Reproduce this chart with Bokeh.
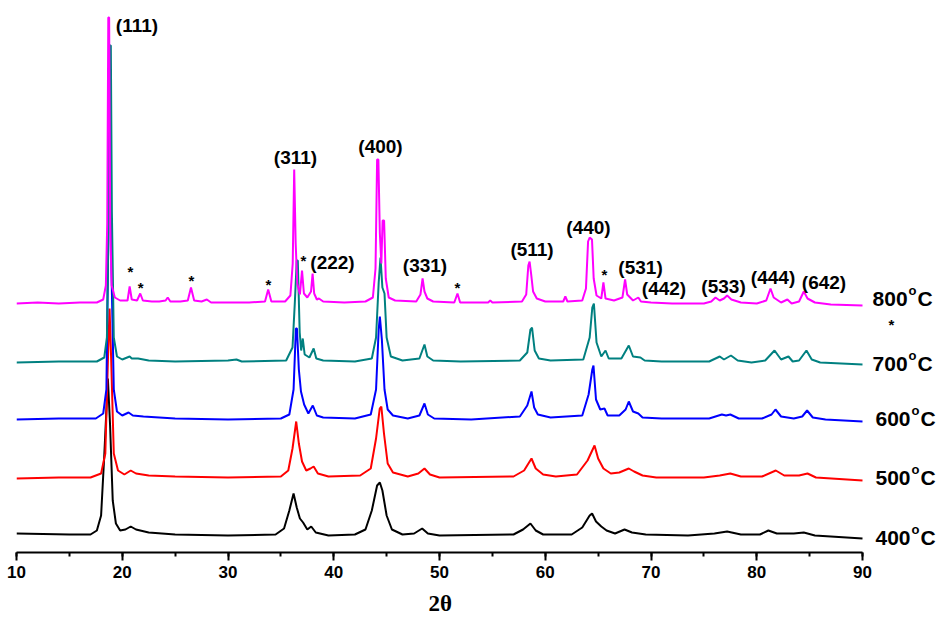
from bokeh.plotting import figure
from bokeh.models import Range1d, SingleIntervalTicker, ColumnDataSource, Title
from bokeh.embed import file_html
from bokeh.resources import INLINE
from bokeh.core.properties import value

# ---------------- data ----------------
temps = ["800", "700", "600", "500", "400"]
colors = ["#FF00FF", "#008080", "#0000FF", "#FF0000", "#000000"]
offsets = [249, 190, 133, 74, 17]   # vertical stacking offset of each pattern (a.u.)

# digitised patterns: (2theta, intensity above own baseline)
pattern_800 = [(10.0,0),(12.0,1),(14.0,0),(16.0,1),(17.6,1),(18.2,4),(18.45,18),(18.58,80),(18.68,286),(18.76,286),(18.86,80),(19.0,18),(19.3,6),(19.8,3),(20.5,3),(20.7,17),(20.9,4),(21.4,3),(21.7,10),(21.95,3),(22.8,2),(23.5,2),(24.1,3),(24.3,6),(24.55,2),(25.5,2),(26.2,3),(26.5,16),(26.8,3),(27.5,2),(28.0,4),(28.4,1),(30.0,1),(32.0,1),(33.5,2),(33.8,14),(34.1,2),(35.4,2),(35.9,8),(36.12,40),(36.26,134),(36.4,60),(36.55,20),(36.8,9),(37.0,33),(37.18,10),(37.5,6),(37.85,12),(38.0,30),(38.15,10),(38.4,4),(38.6,5),(39.0,2),(41.0,1),(43.0,2),(43.7,6),(43.95,35),(44.1,144),(44.22,144),(44.36,70),(44.5,40),(44.62,83),(44.76,83),(44.92,25),(45.2,6),(45.8,3),(47.8,2),(48.2,9),(48.4,25),(48.58,12),(48.85,5),(49.4,2),(51.4,1),(51.7,10),(51.95,1),(54.6,1),(54.8,3),(55.0,1),(57.8,2),(58.2,9),(58.4,38),(58.52,42),(58.66,30),(58.85,12),(59.2,5),(60.0,2),(61.7,2),(61.9,7),(62.1,2),(63.5,3),(63.85,15),(64.05,62),(64.2,66),(64.42,64),(64.58,25),(64.85,8),(65.3,5),(65.5,21),(65.7,5),(66.5,3),(67.3,6),(67.55,24),(67.75,9),(68.3,3),(68.8,6),(69.05,2),(70.0,1),(72.0,0),(75.0,0),(75.7,2),(76.1,6),(76.5,3),(76.9,5),(77.2,8),(77.6,4),(78.5,1),(80.0,0),(80.9,3),(81.3,15),(81.6,6),(82.3,1),(82.9,4),(83.3,0),(84.0,2),(84.45,12),(84.8,5),(85.5,1),(87.0,-1),(90.0,-2)]

pattern_700 = [(10.0,0),(14.0,1),(17.6,1),(18.3,5),(18.55,25),(18.72,150),(18.82,317),(18.92,317),(19.02,150),(19.2,25),(19.5,6),(20.0,3),(20.7,6),(20.9,4),(21.5,4),(22.5,2),(25.0,1),(30.0,2),(30.8,3),(31.3,1),(35.5,2),(36.1,15),(36.32,60),(36.5,102),(36.6,102),(36.78,30),(36.92,12),(37.07,24),(37.25,8),(37.7,5),(38.1,14),(38.35,4),(39.0,2),(42.0,1),(43.6,4),(44.0,25),(44.25,80),(44.42,105),(44.6,75),(44.8,69),(45.0,25),(45.4,6),(46.5,2),(48.1,4),(48.58,18),(48.85,6),(49.4,2),(52.0,1),(57.6,2),(58.3,10),(58.6,33),(58.75,35),(59.0,12),(59.4,4),(60.5,2),(63.6,3),(64.2,25),(64.45,55),(64.6,59),(64.85,20),(65.3,6),(65.7,12),(66.0,4),(67.2,4),(67.9,17),(68.3,6),(69.0,5),(69.4,2),(71.0,1),(75.5,1),(76.5,6),(76.9,3),(77.56,7),(78.2,2),(79.5,0),(80.8,2),(81.68,12),(82.3,3),(83.0,6),(83.4,1),(84.0,2),(84.7,12),(85.2,3),(86.0,0),(90.0,-2)]

pattern_600 = [(10.0,0),(14.0,1),(17.5,1),(18.2,6),(18.5,30),(18.68,180),(18.78,320),(18.86,320),(18.98,150),(19.2,30),(19.5,8),(20.0,4),(20.6,7),(21.0,4),(22.0,3),(25.0,1),(30.0,0),(35.0,1),(35.8,5),(36.2,30),(36.42,91),(36.52,91),(36.7,50),(36.9,28),(37.2,15),(37.6,6),(38.02,14),(38.4,4),(39.0,2),(42.0,1),(43.5,5),(44.0,30),(44.25,90),(44.36,103),(44.55,80),(44.8,30),(45.1,10),(45.6,4),(47.0,1),(48.1,4),(48.58,16),(48.9,5),(49.5,1),(53.0,0),(57.6,3),(58.3,14),(58.7,28),(58.95,12),(59.3,5),(60.5,2),(63.5,4),(64.1,25),(64.45,50),(64.56,54),(64.8,20),(65.2,10),(65.6,11),(65.9,4),(67.0,4),(67.6,10),(67.9,18),(68.3,8),(68.8,6),(69.2,2),(71.0,1),(75.5,1),(76.7,5),(77.1,4),(77.5,5),(78.3,1),(80.5,1),(81.4,5),(81.77,10),(82.3,3),(83.5,1),(84.3,3),(84.76,9),(85.3,2),(86.5,0),(90.0,-2)]

pattern_500 = [(10.0,0),(14.0,1),(17.0,1),(18.0,5),(18.4,25),(18.65,120),(18.8,170),(18.95,120),(19.2,25),(19.6,8),(20.2,4),(20.8,8),(21.3,5),(22.5,3),(25.0,2),(30.0,1),(35.0,2),(35.7,8),(36.1,30),(36.45,57),(36.7,35),(37.0,17),(37.4,8),(37.8,10),(38.1,12),(38.5,5),(39.5,2),(42.5,3),(43.5,10),(44.0,40),(44.35,70),(44.5,72),(44.75,45),(45.1,15),(45.6,6),(47.0,2),(48.0,5),(48.58,10),(49.1,4),(50.0,1),(57.0,2),(58.0,8),(58.7,20),(59.1,10),(59.8,4),(61.0,2),(63.0,4),(64.0,18),(64.66,33),(65.0,20),(65.5,10),(66.2,5),(67.0,6),(67.9,10),(68.4,7),(69.2,3),(70.5,1),(75.0,1),(76.5,3),(77.5,5),(78.5,2),(80.5,2),(81.8,8),(82.6,3),(84.0,3),(84.8,5),(85.6,1),(90.0,-2)]

pattern_400 = [(10.0,2),(15.0,1),(17.0,1),(17.6,5),(18.0,20),(18.3,80),(18.64,157),(18.85,110),(19.1,35),(19.4,12),(19.8,5),(20.3,6),(20.8,9),(21.3,6),(22.5,3),(25.0,1),(30.0,0),(34.5,1),(35.3,7),(35.8,25),(36.2,42),(36.5,28),(36.8,17),(37.1,13),(37.5,6),(37.87,9),(38.3,3),(39.5,0),(42.0,1),(43.0,6),(43.6,25),(44.1,50),(44.36,53),(44.6,45),(45.0,20),(45.5,6),(46.5,1),(47.6,2),(48.36,7),(48.9,2),(50.0,0),(57.0,1),(57.9,6),(58.6,12),(59.1,5),(59.8,1),(62.5,1),(63.5,8),(64.2,20),(64.43,22),(64.8,14),(65.3,9),(65.8,5),(66.6,2),(67.5,6),(68.2,3),(69.5,1),(73.5,0),(76.0,2),(77.2,4),(78.5,1),(80.3,1),(81.1,5),(81.9,2),(83.5,2),(84.45,3),(85.5,0),(90.0,-3)]

patterns = [pattern_800, pattern_700, pattern_600, pattern_500, pattern_400]

hkl = ["(111)", "(311)", "(222)", "(400)", "(331)", "(511)", "(440)",
       "(531)", "(442)", "(533)", "(444)", "(642)"]
impurity_2theta = [20.78, 21.73, 26.55, 33.83, 37.14, 51.70, 65.60]

x_ticks_major = 10   # tick interval in degrees
x_title = "2θ"

# ---------------- layout constants ----------------
hkl_x = [21.39, 36.38, 39.88, 44.42, 48.63, 58.75, 64.09, 69.01, 71.23, 76.86, 81.54, 86.36]
hkl_y = [527, 395, 290, 406, 287, 303, 325, 285, 264, 266, 275, 270]
star_y = [281, 265, 272, 268, 292, 265, 278]
temp_label_x = [90.95, 90.95, 91.23, 91.23, 91.23]
temp_label_y = [254, 189, 134, 75, 15]

FONT = "Liberation Sans"
W, H = 941, 624
PX_PER_DEG = 10.575

p = figure(width=W, height=H,
           x_range=Range1d(10, 10 + (W - 16) / PX_PER_DEG), y_range=Range1d(0, 552),
           output_backend="svg", toolbar_location=None, y_axis_location=None,
           min_border_left=16, min_border_right=0, min_border_top=0, min_border_bottom=H - 552)
p.outline_line_color = None
p.xgrid.visible = False
p.ygrid.visible = False
p.background_fill_color = "white"
p.border_fill_color = "white"

# patterns, lowest temperature first so 800 C sits on top
for pat, off, col in reversed(list(zip(patterns, offsets, colors))):
    xs = [a for a, b in pat]
    ys = [b + off for a, b in pat]
    p.line(xs, ys, line_color=col, line_width=2)

# x axis
ax = p.xaxis[0]
ax.bounds = (10, 90)
ax.ticker = SingleIntervalTicker(interval=x_ticks_major, num_minor_ticks=2)
ax.axis_line_width = 2
ax.axis_line_color = "black"
ax.major_tick_line_width = 2
ax.minor_tick_line_width = 2
ax.major_tick_in = 0
ax.major_tick_out = 8
ax.minor_tick_in = 0
ax.minor_tick_out = 4
ax.major_label_text_font = FONT
ax.major_label_text_font_style = "bold"
ax.major_label_text_font_size = "17px"
ax.major_label_text_color = "black"
ax.major_label_standoff = 5

# axis title, placed under the 50 degree position like the reference
p.add_layout(Title(text=x_title, align="left", offset=412, standoff=16,
                   text_font="Liberation Serif", text_font_style="bold",
                   text_font_size="23px", text_color="black"), "below")

# hkl labels
p.text(x=hkl_x, y=hkl_y, text=hkl, text_font=value(FONT), text_font_style="bold",
       text_font_size="19px", text_align="center", text_baseline="middle", text_color="black")

# impurity stars
p.text(x=impurity_2theta, y=star_y, text=["*"] * len(impurity_2theta), text_font=value(FONT),
       text_font_style="bold", text_font_size="15px", text_align="center",
       text_baseline="middle", text_color="black")
p.text(x=[92.74], y=[228], text=["*"], text_font=value(FONT), text_font_style="bold",
       text_font_size="15px", text_align="center", text_baseline="middle", text_color="black")

# temperature labels with superscript o
src = ColumnDataSource(dict(x=temp_label_x, y=temp_label_y, t=temps,
                            o=["o"] * 5, c=["C"] * 5))
p.text(x="x", y="y", text="t", source=src, text_font=value(FONT), text_font_style="bold",
       text_font_size="21px", text_align="left", text_baseline="middle", text_color="black")
p.text(x="x", y="y", text="o", source=src, x_offset=36, y_offset=-8, text_font=value(FONT),
       text_font_style="bold", text_font_size="13px", text_align="left",
       text_baseline="middle", text_color="black")
p.text(x="x", y="y", text="c", source=src, x_offset=45, text_font=value(FONT),
       text_font_style="bold", text_font_size="21px", text_align="left",
       text_baseline="middle", text_color="black")

open("out.html", "w").write(file_html(p, INLINE))
